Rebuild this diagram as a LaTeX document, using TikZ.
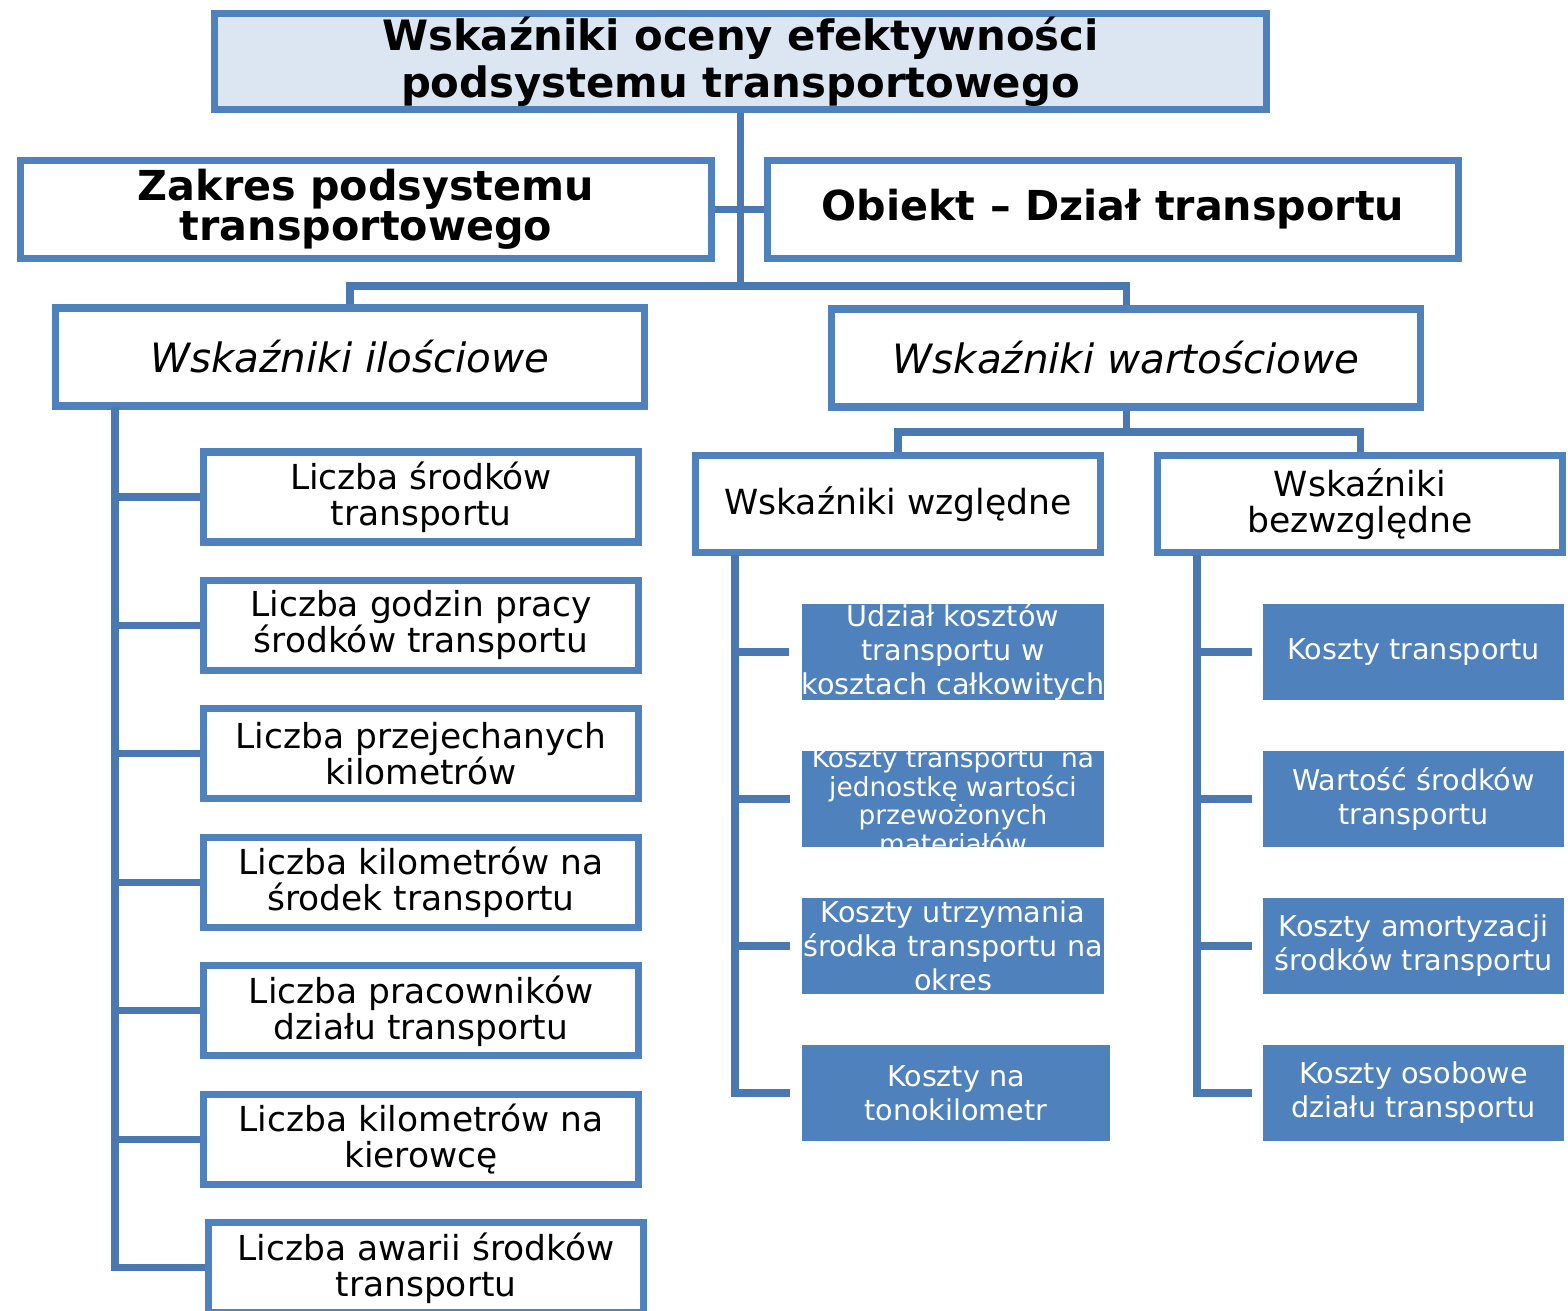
\documentclass[tikz,border=0pt]{standalone}
\usepackage{fontspec}
\setmainfont{DejaVu Sans}
\usepackage{tikz}
\usetikzlibrary{positioning}
\definecolor{boxblue}{RGB}{79,129,189}
\definecolor{lineblue}{RGB}{74,121,178}
\definecolor{headfill}{RGB}{220,230,242}
\tikzstyle{conn} = [draw, line width=4pt, color=lineblue]
\tikzstyle{stub_m} = [draw, line width=5pt, color=lineblue, shorten >=0.24cm]
\tikzstyle{stub_r} = [draw, line width=5pt, color=lineblue, shorten >=0.2cm]
\tikzstyle{plain_box} = [rectangle, draw=boxblue, line width=4pt, fill=white, align=center, inner sep=0pt]
\tikzstyle{head_box} = [plain_box, fill=headfill, minimum width=21.04cm, minimum height=1.92cm, font=\bfseries\fontsize{23.8}{27}\selectfont]
\tikzstyle{scope_box} = [plain_box, minimum width=13.82cm, minimum height=1.96cm, font=\bfseries\fontsize{23.5}{23}\selectfont]
\tikzstyle{group_box} = [plain_box, minimum width=11.78cm, minimum height=1.96cm, font=\itshape\fontsize{23}{25}\selectfont]
\tikzstyle{kind_box} = [plain_box, minimum width=8.1cm, minimum height=1.94cm, font=\fontsize{19.7}{20.5}\selectfont]
\tikzstyle{qty_box} = [plain_box, minimum width=8.7cm, minimum height=1.8cm, font=\fontsize{19.6}{20.5}\selectfont]
\tikzstyle{val_box} = [rectangle, fill=boxblue, text=white, align=center, inner sep=0pt, minimum width=6.04cm, minimum height=1.92cm, font=\fontsize{16.3}{19.2}\selectfont]

\begin{document}
\begin{tikzpicture}[x=0.02cm, y=-0.02cm]
		\useasboundingbox (0,0) rectangle (1568,1311);

		\node [head_box] (head) at (740.5,61.5) {Wskaźniki oceny efektywności\\podsystemu transportowego};
		\node [scope_box] (zakres) at (366,209.5) {Zakres podsystemu\\transportowego};
		\node [scope_box] (obiekt) at (1113,209.5) {Obiekt – Dział transportu};

		\node [group_box] (ilosc) at (350,357) {Wskaźniki ilościowe};
		\node [group_box] (wart) at (1126,358) {Wskaźniki wartościowe};

		\node [kind_box] (wzgl) at (898,504) {Wskaźniki względne};
		\node [kind_box] (bezw) at (1360,504) {Wskaźniki\\bezwzględne};

		\node [qty_box] (q1) at (421,497) {Liczba środków\\transportu};
		\node [qty_box, below of=q1, node distance=2.57cm] (q2) {Liczba godzin pracy\\środków transportu};
		\node [qty_box, below of=q2, node distance=2.57cm] (q3) {Liczba przejechanych\\kilometrów};
		\node [qty_box, below of=q3, node distance=2.57cm] (q4) {Liczba kilometrów na\\środek transportu};
		\node [qty_box, below of=q4, node distance=2.57cm] (q5) {Liczba pracowników\\działu transportu};
		\node [qty_box, below of=q5, node distance=2.57cm] (q6) {Liczba kilometrów na\\kierowcę};
		\node [qty_box, below of=q6, node distance=2.57cm, xshift=0.1cm] (q7) {Liczba awarii środków\\transportu};

		\node [val_box] (m1) at (953,652) {Udział kosztów\\transportu w\\kosztach całkowitych};
		\node [val_box, below of=m1, node distance=2.94cm, font=\fontsize{15}{15.4}\selectfont] (m2) {\smash{\raisebox{-7pt}{\begin{tabular}{@{}c@{}}Koszty transportu~ na\\jednostkę wartości\\przewożonych\\materiałów\end{tabular}}}};
		\node [val_box, below of=m2, node distance=2.94cm] (m3) {Koszty utrzymania\\środka transportu na\\okres};
		\node [val_box, below of=m3, node distance=2.94cm, minimum width=6.16cm, xshift=0.06cm] (m4) {Koszty na\\tonokilometr};

		\node [val_box] (r1) at (1413.5,652) {Koszty transportu};
		\node [val_box, below of=r1, node distance=2.94cm] (r2) {Wartość środków\\transportu};
		\node [val_box, below of=r2, node distance=2.94cm] (r3) {Koszty amortyzacji\\środków transportu};
		\node [val_box, below of=r3, node distance=2.94cm] (r4) {Koszty osobowe\\działu transportu};

		\coordinate (hub) at (740.5,286);
		\path [conn] (head.south) -- (hub);
		\path [conn] (zakres.east) -- (obiekt.west);
		\path [conn] (hub) -| (ilosc.north);
		\path [conn] (hub) -| (wart.north);

		\coordinate (split) at (1126,432);
		\path [conn] (wart.south) -- (split);
		\path [conn] (split) -| (wzgl.north);
		\path [conn] (split) -| (bezw.north);

		\coordinate (qtrunk) at (115,407);
		\path [conn] (qtrunk) |- (q1.west);
		\path [conn] (qtrunk) |- (q2.west);
		\path [conn] (qtrunk) |- (q3.west);
		\path [conn] (qtrunk) |- (q4.west);
		\path [conn] (qtrunk) |- (q5.west);
		\path [conn] (qtrunk) |- (q6.west);
		\path [conn] (qtrunk) |- (q7.west);

		\coordinate (mtrunk) at (735,555);
		\path [stub_m] (mtrunk) |- (m1.west);
		\path [stub_m] (mtrunk) |- (m2.west);
		\path [stub_m] (mtrunk) |- (m3.west);
		\path [stub_m] (mtrunk) |- (m4.west);

		\coordinate (rtrunk) at (1197,555);
		\path [stub_r] (rtrunk) |- (r1.west);
		\path [stub_r] (rtrunk) |- (r2.west);
		\path [stub_r] (rtrunk) |- (r3.west);
		\path [stub_r] (rtrunk) |- (r4.west);
\end{tikzpicture}
\end{document}
